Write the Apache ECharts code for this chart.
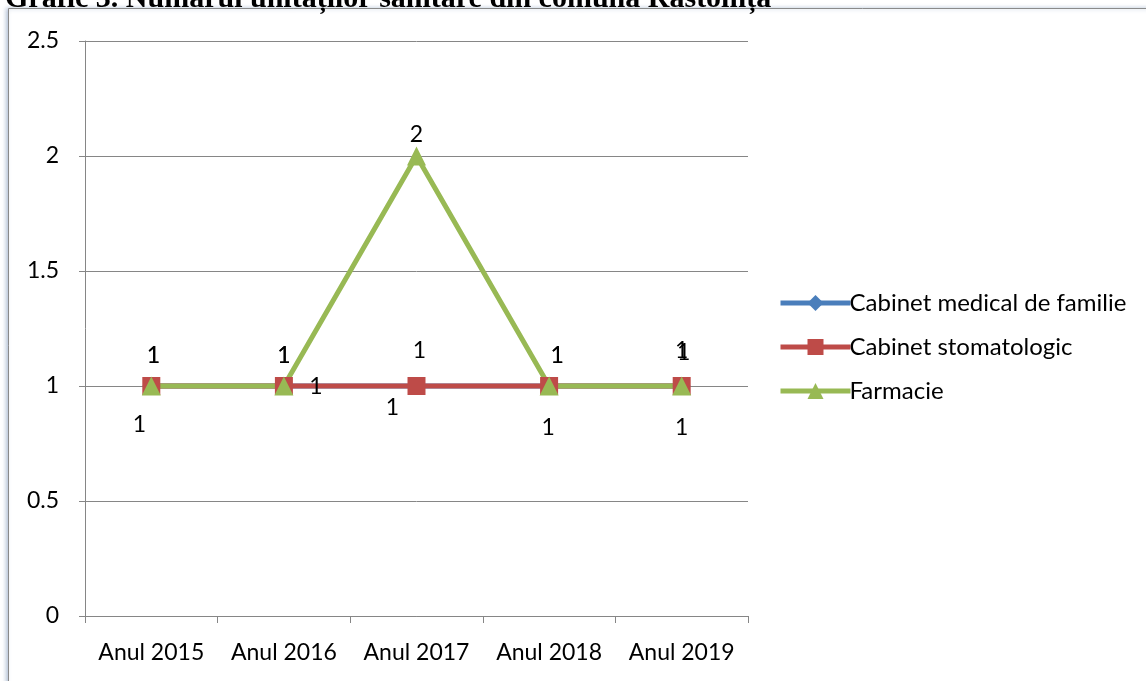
<!DOCTYPE html>
<html>
<head>
<meta charset="utf-8">
<script src="https://cdn.jsdelivr.net/npm/echarts@6/dist/echarts.min.js"></script>
<style>
  html, body { margin: 0; padding: 0; background: #fff; }
  #main { width: 1146px; height: 681px; }
</style>
</head>
<body>
<div id="main"></div>
<script>
// date
var years = ['Anul 2015', 'Anul 2016', 'Anul 2017', 'Anul 2018', 'Anul 2019'];
var seriesNames = ['Cabinet medical de familie', 'Cabinet stomatologic', 'Farmacie'];
var medicalValues = [1, 1, 1, 1, 1];
var stomaValues = [1, 1, 1, 1, 1];
var farmacieValues = [1, 1, 2, 1, 1];
var yTicks = [0, 0.5, 1, 1.5, 2, 2.5];

// pozitiile etichetelor (mutate de mana in Excel)
var medicalOffsets = [[-12, 39], [32, 1], [-24, 22], [-1, 42], [0, 42]];
var stomaOffsets = [[2, -30], [0, -30], [3, -35], [8, -30], [2, -33]];
var farmacieOffsets = [[2, -30], [0, -30], [0, -21], [8, -30], [0, -35]];

var fontSans = 'Lato';
var fontSize = 23;

function buildData(values, offsets) {
    var out = [];
    for (var i = 0; i < values.length; i++) {
        out.push({
            value: values[i],
            label: { offset: offsets[i] }
        });
    }
    return out;
}

var Item = function (name, color, symbol, size, values, offsets) {
    return {
        name: name,
        type: 'line',
        symbol: symbol,
        symbolSize: size,
        showAllSymbol: true,
        lineStyle: { color: color, width: 5 },
        itemStyle: { color: color },
        label: {
            show: true,
            position: 'inside',
            color: '#000',
            fontFamily: fontSans,
            fontSize: fontSize
        },
        emphasis: { disabled: true },
        data: buildData(values, offsets)
    };
};

var chart = echarts.init(document.getElementById('main'));
var option = {
    animation: false,
    title: {
        text: 'Grafic 3. Numărul unităților sanitare din comuna Rastoința',
        left: 0,
        top: -21,
        textStyle: {
            fontFamily: 'Liberation Serif',
            fontWeight: 'bold',
            fontSize: 30,
            color: '#000'
        }
    },
    graphic: [{
        type: 'rect',
        z: -1,
        shape: { x: 8.5, y: 8.5, width: 1160, height: 700 },
        style: { fill: '#fff', stroke: '#8a8a8a', lineWidth: 1, shadowColor: 'rgba(80,110,160,0.45)', shadowBlur: 4, shadowOffsetX: -2 }
    }],
    legend: {
        orient: 'vertical',
        left: 773,
        top: 286,
        itemWidth: 70,
        itemHeight: 20,
        itemGap: 20,
        lineStyle: { width: 5 },
        textStyle: { fontFamily: fontSans, fontSize: 24, color: '#000', padding: [0, 0, 0, -6] },
        data: seriesNames
    },
    grid: { left: 85, right: 398, top: 41, bottom: 65 },
    xAxis: {
        type: 'category',
        data: years,
        boundaryGap: true,
        axisLine: { lineStyle: { color: '#868686', width: 1 } },
        axisTick: { show: true, inside: false, interval: 0, length: 7, lineStyle: { color: '#868686' } },
        axisLabel: { interval: 0, color: '#000', fontFamily: fontSans, fontSize: fontSize, margin: 25 }
    },
    yAxis: {
        type: 'value',
        min: yTicks[0],
        max: yTicks[yTicks.length - 1],
        interval: 0.5,
        axisLine: { show: true, lineStyle: { color: '#868686', width: 1 } },
        axisTick: { show: true, length: 6, lineStyle: { color: '#868686' } },
        splitLine: { lineStyle: { color: '#868686', width: 1 } },
        axisLabel: { color: '#000', fontFamily: fontSans, fontSize: fontSize, margin: 26 }
    },
    series: [
        new Item(seriesNames[0], '#4A7EBB', 'diamond', 18, medicalValues, medicalOffsets),
        new Item(seriesNames[1], '#BE4B48', 'rect', 18, stomaValues, stomaOffsets),
        new Item(seriesNames[2], '#98B954', 'triangle', 19, farmacieValues, farmacieOffsets)
    ]
};
chart.setOption(option, true);
</script>
</body>
</html>
